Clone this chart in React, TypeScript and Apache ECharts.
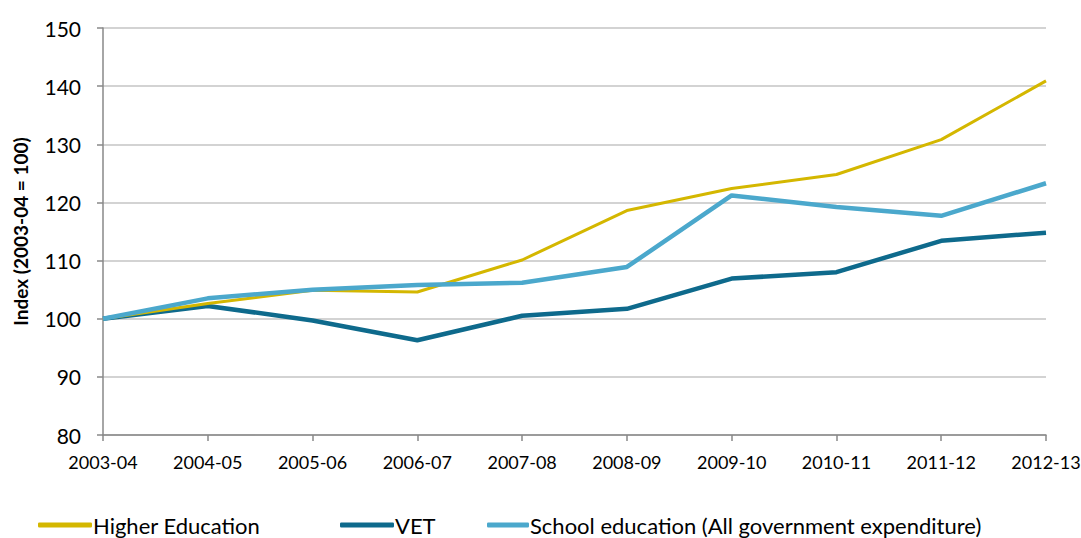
import React, { useEffect, useRef } from "react";
import * as echarts from "echarts";

const categories = ["2003-04", "2004-05", "2005-06", "2006-07", "2007-08", "2008-09", "2009-10", "2010-11", "2011-12", "2012-13"];
const higherEducation = [100, 102.6, 104.9, 104.6, 110.1, 118.6, 122.4, 124.8, 130.8, 140.9];
const vet = [100, 102.2, 99.7, 96.3, 100.5, 101.7, 106.9, 108.0, 113.4, 114.8];
const schoolEducation = [100, 103.5, 105.0, 105.8, 106.2, 108.9, 121.2, 119.2, 117.7, 123.3];
const yTicks = { min: 80, max: 150, interval: 10 };

const FONT = "Lato, 'Noto Sans', sans-serif";
const GOLD = "#D4B700";
const DARK = "#0E6A8C";
const LIGHT = "#4BA8CC";

export default function App() {
  const ref = useRef<HTMLDivElement>(null);
  useEffect(() => {
    document.body.style.margin = "0";
    const chart = echarts.init(ref.current!, null, { renderer: "svg" });
    const legendBase = {
      top: 514,
      itemWidth: 54,
      itemHeight: 5,
      icon: "roundRect",
      itemGap: 0,
      textStyle: { fontFamily: FONT, fontSize: 22, lineHeight: 22, color: "#000", padding: [0, 0, 0, -4] },
      padding: 0,
    };
    chart.setOption({
      animation: false,
      grid: { left: 103, right: 35, top: 28, bottom: 103, outerBoundsMode: "none", containLabel: false },
      legend: [
        { ...legendBase, left: 38, data: ["Higher Education"] },
        { ...legendBase, left: 340, data: ["VET"] },
        { ...legendBase, left: 487, itemWidth: 42, data: ["School education (All government expenditure)"] },
      ],
      xAxis: {
        type: "category",
        data: categories,
        boundaryGap: false,
        axisLine: { lineStyle: { color: "#888", width: 1.5 } },
        axisTick: { show: true, length: 6, lineStyle: { color: "#888", width: 1.5 } },
        axisLabel: { fontFamily: FONT, fontSize: 18, color: "#000", margin: 18, showMaxLabel: true, showMinLabel: true, interval: 0 },
      },
      yAxis: {
        type: "value",
        min: yTicks.min,
        max: yTicks.max,
        interval: yTicks.interval,
        name: "Index (2003-04 = 100)",
        nameLocation: "middle",
        nameGap: 73,
        nameRotate: 90,
        nameTextStyle: { fontFamily: FONT, fontSize: 19, fontWeight: "bold", color: "#000" },
        axisLine: { show: true, lineStyle: { color: "#888", width: 1.5 } },
        axisTick: { show: true, length: 6, lineStyle: { color: "#888", width: 1.5 } },
        axisLabel: { fontFamily: FONT, fontSize: 21, color: "#000", margin: 22 },
        splitLine: { lineStyle: { color: "#C4C4C4", width: 1.5 } },
      },
      series: [
        { name: "Higher Education", type: "line", data: higherEducation, showSymbol: false, symbol: "none", lineStyle: { color: GOLD, width: 3 }, itemStyle: { color: GOLD }, z: 3 },
        { name: "VET", type: "line", data: vet, showSymbol: false, symbol: "none", lineStyle: { color: DARK, width: 4.5 }, itemStyle: { color: DARK }, z: 2 },
        { name: "School education (All government expenditure)", type: "line", data: schoolEducation, showSymbol: false, symbol: "none", lineStyle: { color: LIGHT, width: 4.5 }, itemStyle: { color: LIGHT }, z: 4 },
      ],
    });
    return () => chart.dispose();
  }, []);
  return <div ref={ref} style={{ width: 1081, height: 538 }} />;
}
